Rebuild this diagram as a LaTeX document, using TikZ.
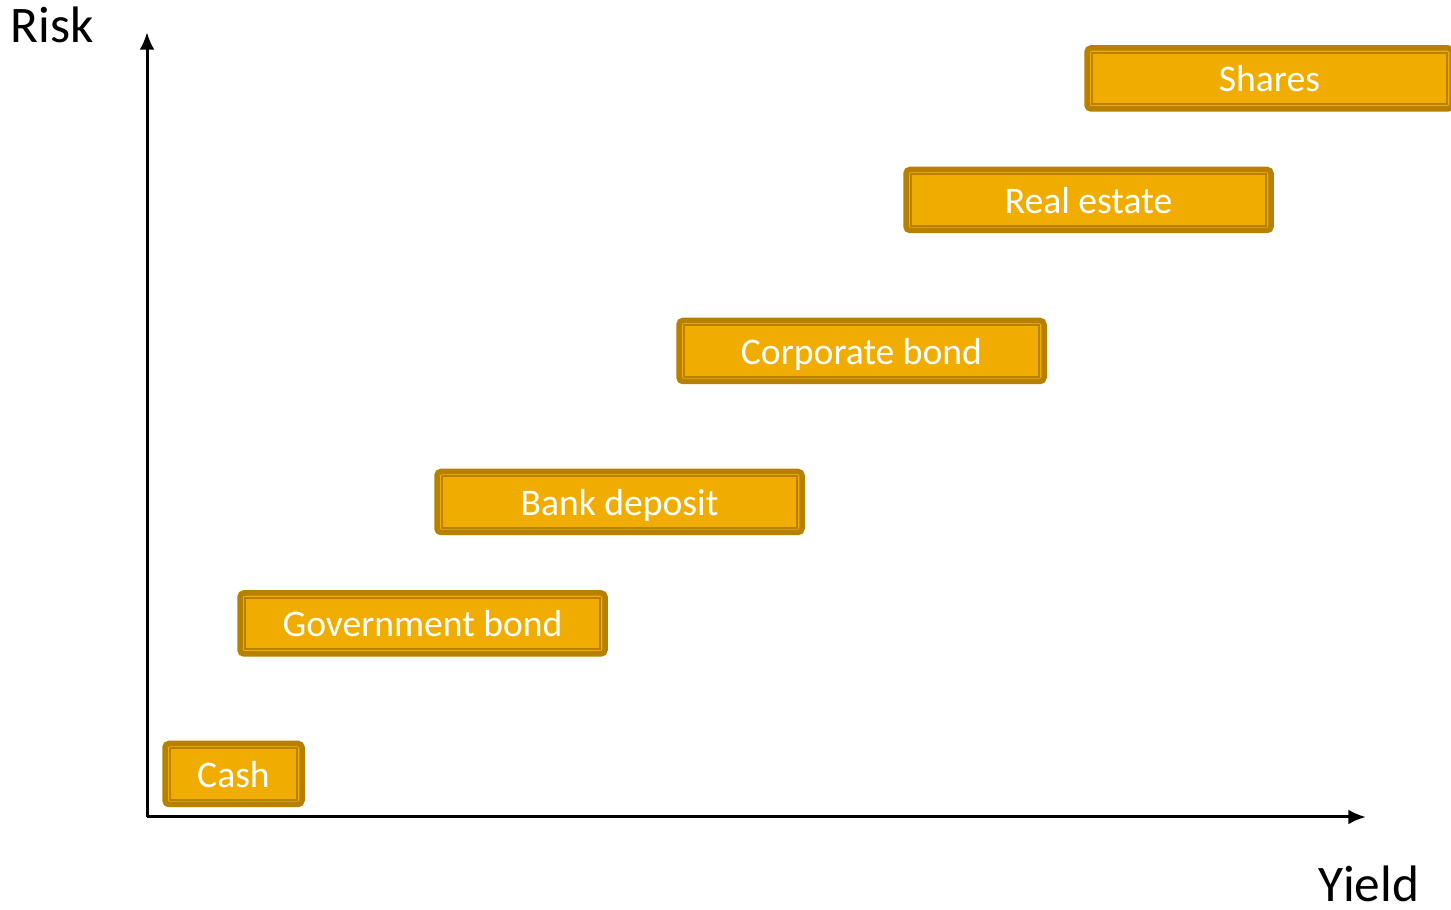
\documentclass[tikz,border=0pt]{standalone}
\usepackage{fontspec}
\setmainfont{Carlito}
\usepackage{tikz}
\usetikzlibrary{arrows.meta,calc,positioning}
\definecolor{gold}{RGB}{240,173,0}
\definecolor{darkgold}{RGB}{183,128,0}

\begin{document}
\begin{tikzpicture}[
        asset/.style={draw=darkgold, fill=gold, line width=0.055cm, rounded corners=0.04cm,
          minimum height=0.61cm, minimum width=3.65cm, inner sep=0pt,
          text=white, font=\fontsize{10.7}{12}\selectfont, text height=7.6pt, text depth=0pt},
        inner/.style={draw=darkgold, line width=0.018cm},
        axis/.style={line width=0.03cm, -{Latex[length=5pt,width=4.2pt]}},
        axislabel/.style={anchor=base, font=\fontsize{14.6}{17}\selectfont}
    ]
        \useasboundingbox (0,0) rectangle (14.51,9.10);
        \def\d{0.075}
        %Axis
        \coordinate (o) at (1.47,0.93);
        \coordinate (ytop) at (1.47,8.78);
        \coordinate (xend) at (13.66,0.93);
        \draw[axis] (o) -- (ytop);
        \draw[axis] (o) -- (xend);
        \node[axislabel] (risk) at (0.52,8.67) {Risk};
        \node[axislabel] (yield) at (13.69,0.08) {Yield};
        %Boxes
        \node[asset, minimum width=1.37cm] (cash) at (2.335,1.36) {Cash};
        \node[asset] (gov) at (4.225,2.865) {Government bond};
        \node[asset] (bank) at (6.195,4.08) {Bank deposit};
        \node[asset] (corp) at (8.615,5.59) {Corporate bond};
        \node[asset] (real) at (10.885,7.10) {Real estate};
        \node[asset] (shares) at (12.695,8.315) {Shares};
        %Inner frame
        \foreach \n in {cash,gov,bank,corp,real,shares}
          \draw[inner] ($(\n.south west)+(\d,\d)$) rectangle ($(\n.north east)-(\d,\d)$);
      \end{tikzpicture}
\end{document}
